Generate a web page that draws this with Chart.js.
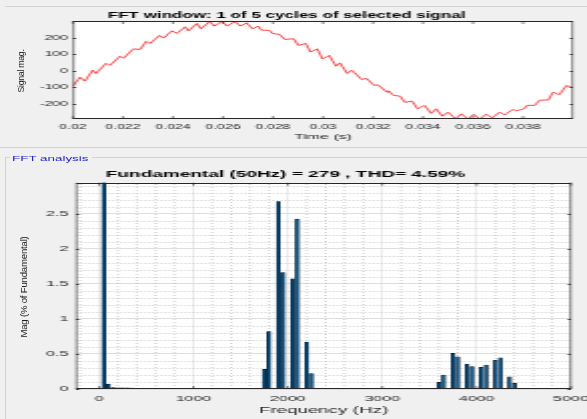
<!DOCTYPE html>
<html>
<head>
<meta charset="utf-8">
<script src="https://cdn.jsdelivr.net/npm/chart.js@4"></script>
<style>
  html, body { margin: 0; padding: 0; background: #f0f0f0; }
  body { width: 587px; height: 419px; position: relative; overflow: hidden; font-family: "Liberation Sans", Arial, sans-serif; }
  /* the reference is stretched about 2x sideways, so the charts are drawn narrow and widened */
  #stretch { position: absolute; left: 0; top: 0; width: 293px; height: 419px; transform: scaleX(2.0034); transform-origin: 0 0; }
  #topChart { position: absolute; left: 0; top: 0; }
  #fftChart { position: absolute; left: 0; top: 165px; }
  .rule { position: absolute; background: #d2d2d2; }
  #panelTitle { position: absolute; left: 6px; top: 154.5px; font-size: 6.7px; line-height: 8px; color: #2424d0; white-space: nowrap; }
  .ylab { position: absolute; transform: translate(-50%, -50%) rotate(-90deg); white-space: nowrap; line-height: 1; color: #1a1a1a; }
</style>
</head>
<body>
<div class="rule" style="left:5px;top:6px;width:582px;height:1px"></div>
<div class="rule" style="left:0;top:147px;width:587px;height:1px"></div>
<div class="rule" style="left:5px;top:157px;width:5px;height:1px"></div>
<div class="rule" style="left:92px;top:157px;width:495px;height:1px"></div>
<div class="rule" style="left:5px;top:157px;width:1px;height:262px"></div>

<div id="stretch">
  <canvas id="topChart" width="293" height="147"></canvas>
  <canvas id="fftChart" width="293" height="254"></canvas>
  <div id="panelTitle">FFT analysis</div>
</div>

<div class="ylab" style="left:21px;top:71px;font-size:8.8px;letter-spacing:-0.3px">Signal mag.</div>
<div class="ylab" style="left:23.7px;top:287px;font-size:9.6px;letter-spacing:-0.2px">Mag (% of Fundamental)</div>

<script>
// --- DATA | TIME SIGNAL --- //
const sigTime = [
  0.02, 0.02028, 0.02048, 0.02079, 0.02092, 0.02132, 0.02148, 0.02188, 0.02202, 0.02242,
  0.02269, 0.02293, 0.02309, 0.02346, 0.02362, 0.02396, 0.02416, 0.02449, 0.02462, 0.02496,
  0.02512, 0.02547, 0.02565, 0.02596, 0.02616, 0.02647, 0.0267, 0.02694, 0.02718, 0.02741,
  0.02754, 0.02787, 0.02798, 0.02827, 0.02847, 0.02883, 0.02901, 0.02931, 0.0295, 0.02977,
  0.02998, 0.03025, 0.03052, 0.03068, 0.03097, 0.03115, 0.03155, 0.03175, 0.03204, 0.0322,
  0.03255, 0.03262, 0.03282, 0.03308, 0.03328, 0.03356, 0.03379, 0.03406, 0.03433, 0.03453,
  0.03477, 0.035, 0.0353, 0.03553, 0.0358, 0.03603, 0.03627, 0.03653, 0.03677, 0.03707,
  0.03727, 0.0376, 0.03773, 0.03803, 0.03816, 0.03847, 0.03867, 0.03901, 0.03921, 0.03945,
  0.03974, 0.04
];
const sigMag = [
  -92, -38, -62, 4, -16, 45, 33, 88, 76, 132,
  129, 177, 165, 213, 197, 241, 225, 265, 241, 285,
  253, 297, 269, 297, 269, 297, 269, 289, 253, 269,
  245, 243, 225, 219, 189, 193, 153, 165, 113, 132,
  72, 93, 28, 48, -16, 4, -52, -46, -88, -84,
  -128, -120, -148, -152, -190, -182, -229, -208, -256, -229,
  -273, -249, -289, -259, -290, -262, -290, -261, -283, -249,
  -265, -232, -241, -229, -208, -208, -176, -176, -128, -144,
  -88, -102
];
const timeTicks = [0.02, 0.022, 0.024, 0.026, 0.028, 0.03, 0.032, 0.034, 0.036, 0.038];
const sigTicks = [-200, -100, 0, 100, 200];

// --- DATA | HARMONIC SPECTRUM --- //
const harmFreq = [
  50, 100, 150, 200, 250, 300, 350, 1050, 1650, 1750,
  1800, 1900, 1950, 2000, 2050, 2100, 2200, 2250, 2350, 3500,
  3600, 3650, 3750, 3800, 3900, 3950, 4000, 4050, 4100, 4200,
  4250, 4350, 4400, 4500
];
const harmMag = [
  100, 0.07, 0.02, 0.015, 0.015, 0.015, 0.012, 0.008, 0.01, 0.28,
  0.82, 2.67, 1.66, 0.012, 1.57, 2.42, 0.67, 0.22, 0.01, 0.01,
  0.095, 0.2, 0.51, 0.46, 0.355, 0.32, 0.01, 0.31, 0.34, 0.41,
  0.445, 0.175, 0.08, 0.01
];
const freqTicks = [0, 1000, 2000, 3000, 4000, 5000];
const magTicks = [0, 0.5, 1, 1.5, 2, 2.5];

const FONT = "'Liberation Sans', Arial, sans-serif";
const AXIS_COLOR = '#262626';

// --- PLUGIN | MATLAB STYLE AXES BOX --- //
const matlabAxes = {
  id: 'matlabAxes',
  beforeDraw(chart) {
    const { ctx, chartArea: a } = chart;
    ctx.save();
    ctx.fillStyle = '#ffffff';
    ctx.fillRect(a.left, a.top, a.right - a.left, a.bottom - a.top);
    ctx.restore();
  },
  beforeDatasetsDraw(chart, args, opts) {
    if (!opts.minorX) return;
    const { ctx, chartArea: a, scales: { x, y } } = chart;
    ctx.save();
    ctx.strokeStyle = '#9a9a9a';
    ctx.lineWidth = 0.5;
    ctx.setLineDash([1, 2]);
    for (let k = Math.ceil(x.min / opts.minorX); k * opts.minorX < x.max; k++) {
      if ((k * opts.minorX) % opts.majorX === 0) continue;
      const px = x.getPixelForValue(k * opts.minorX);
      ctx.beginPath();
      ctx.moveTo(px, a.bottom);
      ctx.lineTo(px, a.top);
      ctx.stroke();
    }
    ctx.lineWidth = 1;
    ctx.strokeStyle = '#b0b0b0';
    ctx.setLineDash([0.5, 1.5]);
    for (let k = 1; k * opts.minorY < y.max; k++) {
      if (k % opts.minorPerMajor === 0) continue;
      const py = Math.round(y.getPixelForValue(k * opts.minorY)) + 0.5;
      ctx.beginPath();
      ctx.moveTo(a.left, py);
      ctx.lineTo(a.right, py);
      ctx.stroke();
    }
    ctx.restore();
  },
  afterDatasetsDraw(chart) {
    const { ctx, chartArea: a, scales: { x, y } } = chart;
    ctx.save();
    ctx.strokeStyle = AXIS_COLOR;
    // top and bottom edges
    ctx.lineWidth = 1;
    const top = Math.round(a.top) + 0.5;
    const bot = Math.round(a.bottom) - 0.5;
    ctx.beginPath();
    ctx.moveTo(a.left, top); ctx.lineTo(a.right, top);
    ctx.moveTo(a.left, bot); ctx.lineTo(a.right, bot);
    // y ticks, pointing inward
    y.ticks.forEach(t => {
      const py = Math.round(y.getPixelForValue(t.value)) + 0.5;
      ctx.moveTo(a.left, py); ctx.lineTo(a.left + 1.5, py);
      ctx.moveTo(a.right, py); ctx.lineTo(a.right - 1.5, py);
    });
    ctx.stroke();
    // left and right edges
    ctx.lineWidth = 0.6;
    ctx.beginPath();
    ctx.moveTo(a.left + 0.3, a.top); ctx.lineTo(a.left + 0.3, a.bottom);
    ctx.moveTo(a.right - 0.3, a.top); ctx.lineTo(a.right - 0.3, a.bottom);
    // x ticks, pointing inward
    x.ticks.forEach(t => {
      const px = x.getPixelForValue(t.value);
      ctx.moveTo(px, a.bottom); ctx.lineTo(px, a.bottom - 3);
      ctx.moveTo(px, a.top); ctx.lineTo(px, a.top + 3);
    });
    ctx.stroke();
    ctx.restore();
  }
};

const tickFont = size => ({ family: FONT, size: size });

// --- LINE CHART | FFT WINDOW --- //
const signalChart = new Chart(document.getElementById('topChart'), {
  type: 'line',
  data: {
    datasets: [{
      data: sigTime.map((t, i) => ({ x: t, y: sigMag[i] })),
      borderColor: '#ff1a1a',
      borderWidth: 0.8,
      pointRadius: 0,
      tension: 0,
      clip: 0
    }]
  },
  options: {
    responsive: false,
    animation: false,
    devicePixelRatio: 1,
    events: [],
    layout: { padding: { left: 0, right: 7, top: 0, bottom: 0 } },
    plugins: {
      legend: { display: false },
      tooltip: { enabled: false },
      title: {
        display: true,
        text: 'FFT window: 1 of 5 cycles of selected signal',
        color: '#000',
        font: { family: FONT, size: 8.5, weight: 'bold' },
        padding: { top: 10.3, bottom: 0.5 }
      },
      matlabAxes: {}
    },
    scales: {
      x: {
        type: 'linear',
        min: 0.02,
        max: 0.04,
        afterBuildTicks: s => { s.ticks = timeTicks.map(v => ({ value: v })); },
        afterFit: s => { s.height = 28; s.paddingLeft = 0; s.paddingRight = 0; },
        grid: { display: false, drawTicks: false },
        border: { display: false },
        ticks: {
          font: tickFont(7), color: AXIS_COLOR, padding: 4,
          maxRotation: 0, autoSkip: false,
          callback: v => String(+v.toFixed(3))
        },
        title: {
          display: true, text: 'Time (s)', color: AXIS_COLOR,
          font: { family: FONT, size: 8 }, padding: { top: 0, bottom: 5.2 }
        }
      },
      y: {
        min: -290,
        max: 300,
        afterBuildTicks: s => { s.ticks = sigTicks.map(v => ({ value: v })); },
        afterFit: s => { s.width = 36.4; },
        grid: { display: false, drawTicks: false },
        border: { display: false },
        ticks: { font: tickFont(7), color: AXIS_COLOR, padding: 2.5, callback: v => String(v) }
      }
    }
  },
  plugins: [matlabAxes]
});

// --- BAR CHART | FFT ANALYSIS --- //
const fftChart = new Chart(document.getElementById('fftChart'), {
  type: 'bar',
  data: {
    datasets: [{
      data: harmFreq.map((f, i) => ({ x: f, y: harmMag[i] })),
      backgroundColor: '#0a5f9e',
      borderColor: '#000000',
      borderWidth: 0.55,
      barThickness: 1.75,
      clip: 0
    }]
  },
  options: {
    responsive: false,
    animation: false,
    devicePixelRatio: 1,
    events: [],
    layout: { padding: { left: 0, right: 8, top: 0, bottom: 0 } },
    plugins: {
      legend: { display: false },
      tooltip: { enabled: false },
      title: {
        display: true,
        text: 'Fundamental (50Hz) = 279 , THD= 4.59%',
        color: '#000',
        font: { family: FONT, size: 9.5, weight: 'bold' },
        padding: { top: 4, bottom: 2.3 }
      },
      matlabAxes: { minorX: 200, majorX: 1000, minorY: 0.1, minorPerMajor: 5 }
    },
    scales: {
      x: {
        type: 'linear',
        min: -245,
        max: 5000,
        offset: false,
        afterBuildTicks: s => { s.ticks = freqTicks.map(v => ({ value: v })); },
        afterFit: s => { s.height = 30; s.paddingLeft = 0; s.paddingRight = 0; },
        grid: { offset: false, color: '#d8d8d8', lineWidth: 0.5, drawTicks: false },
        border: { display: false },
        ticks: {
          font: tickFont(8), color: AXIS_COLOR, padding: 4.9,
          maxRotation: 0, autoSkip: false, callback: v => String(v)
        },
        title: {
          display: true, text: 'Frequency (Hz)', color: AXIS_COLOR,
          font: { family: FONT, size: 9.4 }, padding: { top: 0, bottom: 2.5 }
        }
      },
      y: {
        min: 0,
        max: 2.94,
        afterBuildTicks: s => { s.ticks = magTicks.map(v => ({ value: v })); },
        afterFit: s => { s.width = 37.9; },
        grid: { color: '#dedede', lineWidth: 1, drawTicks: false },
        border: { display: false },
        ticks: { font: tickFont(8), color: AXIS_COLOR, padding: 3.8, callback: v => String(v) }
      }
    }
  },
  plugins: [matlabAxes]
});
</script>
</body>
</html>
